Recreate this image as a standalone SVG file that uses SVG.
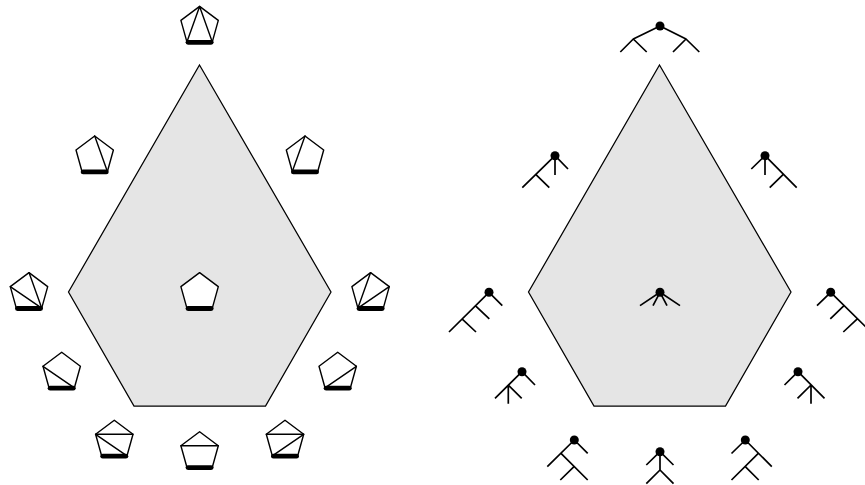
<svg xmlns="http://www.w3.org/2000/svg" xmlns:xlink="http://www.w3.org/1999/xlink" width="865" height="485" viewBox="0 0 865 485">
<style>
.hex{fill:#e5e5e5;stroke:#000;stroke-width:1.25;stroke-linejoin:miter}
.pent{fill:#fff;stroke:#000;stroke-width:1.4;stroke-linejoin:round}
.chord{fill:none;stroke:#000;stroke-width:1.4;stroke-linecap:round}
.base{fill:none;stroke:#000;stroke-width:4.8;stroke-linecap:round}
.tree{fill:none;stroke:#000;stroke-width:1.7;stroke-linecap:butt;stroke-linejoin:round}
.root{fill:#000}
</style>
<defs>
<g id="p">
<polygon class="pent" points="0,0 18.7,14 12.7,35.5 -12.7,35.5 -18.7,14"/>
<line class="base" x1="-11.6" y1="35.9" x2="11.6" y2="35.9"/>
</g>
<circle id="r" class="root" r="4.5"/>
</defs>
<g id="left-region"><polygon class="hex" points="199.5,65 331,292 265.5,406 134,406 68.5,292"/></g>
<g id="right-region"><polygon class="hex" points="659.5,65 791,292 725.5,406 594,406 528.5,292"/></g>

<g id="pent-top" transform="translate(199.6,6.4)"><use xlink:href="#p"/><path class="chord" d="M0,0L-12.7,35.5M0,0L12.7,35.5"/></g>
<g id="pent-ul" transform="translate(94.7,136)"><use xlink:href="#p"/><path class="chord" d="M0,0L12.7,35.5"/></g>
<g id="pent-ur" transform="translate(305,136)"><use xlink:href="#p"/><path class="chord" d="M0,0L-12.7,35.5"/></g>
<g id="pent-center" transform="translate(199.6,272.6)"><use xlink:href="#p"/></g>
<g id="pent-l" transform="translate(29,272.6)"><use xlink:href="#p"/><path class="chord" d="M0,0L12.7,35.5M-18.7,14L12.7,35.5"/></g>
<g id="pent-r" transform="translate(370.6,272.6)"><use xlink:href="#p"/><path class="chord" d="M0,0L-12.7,35.5M18.7,14L-12.7,35.5"/></g>
<g id="pent-l2" transform="translate(61.7,352.3)"><use xlink:href="#p"/><path class="chord" d="M-18.7,14L12.7,35.5"/></g>
<g id="pent-r2" transform="translate(337.7,352.3)"><use xlink:href="#p"/><path class="chord" d="M18.7,14L-12.7,35.5"/></g>
<g id="pent-bl" transform="translate(114.3,420.3)"><use xlink:href="#p"/><path class="chord" d="M-18.7,14H18.7M-18.7,14L12.7,35.5"/></g>
<g id="pent-bm" transform="translate(199.6,431.7)"><use xlink:href="#p"/><path class="chord" d="M-18.7,14H18.7"/></g>
<g id="pent-br" transform="translate(285,420.3)"><use xlink:href="#p"/><path class="chord" d="M-18.7,14H18.7M18.7,14L-12.7,35.5"/></g>

<g id="tree-top"><path class="tree" d="M660,26L633.3,39L620.3,52M633.3,39L646.7,52M660,26L686,39L673,52M686,39L699.3,52"/><use xlink:href="#r" x="660" y="26"/></g>
<g id="tree-ul"><path class="tree" d="M555,155.7L568,169M555,155.7V175M555,155.7L522.3,187.7M535.7,174.3L549.3,187.7"/><use xlink:href="#r" x="555" y="155.7"/></g>
<g id="tree-ur"><path class="tree" d="M765,155.7L751.3,169M765,155.7V175M765,155.7L796.7,187.7M783.3,174.3L769.7,187.7"/><use xlink:href="#r" x="765" y="155.7"/></g>
<g id="tree-center"><path class="tree" d="M660,292.3L640,305.6M660,292.3L653,305.6M660,292.3L667,305.6M660,292.3L680,305.6"/><use xlink:href="#r" x="660" y="292.3"/></g>
<g id="tree-l"><path class="tree" d="M489,292.3L502.3,305.6M489,292.3L449,332M475.3,305.6L489.3,318.9M462,318.9L476,332"/><use xlink:href="#r" x="489" y="292.3"/></g>
<g id="tree-r"><path class="tree" d="M830.7,292.3L817,305.6M830.7,292.3L871,332M844,305.6L830.3,318.9M857.3,318.9L843.3,332"/><use xlink:href="#r" x="830.7" y="292.3"/></g>
<g id="tree-l2"><path class="tree" d="M522,371.7L535,385M522,371.7L495,398.3M508.3,385L521.7,398.3M508.3,385V403.7"/><use xlink:href="#r" x="522" y="371.7"/></g>
<g id="tree-r2"><path class="tree" d="M798,371.7L784.5,385M798,371.7L824.5,398.3M811,385L797.5,398.3M811,385V403.7"/><use xlink:href="#r" x="798" y="371.7"/></g>
<g id="tree-bl"><path class="tree" d="M574.3,440L587.7,453.3M574.3,440L547.3,466.6M561,453.3L587.7,480M574,466.7L560.3,480"/><use xlink:href="#r" x="574.3" y="440"/></g>
<g id="tree-bm"><path class="tree" d="M660,451.7L646.3,465M660,451.7L673.5,465M660,451.7V470L646.3,483.7M660,470L673.5,483.7"/><use xlink:href="#r" x="660" y="451.7"/></g>
<g id="tree-br"><path class="tree" d="M745.3,440L731.5,453.5M745.3,440L771.8,466.7M758.3,453.3L731.5,480M745.3,466.7L758.7,480"/><use xlink:href="#r" x="745.3" y="440"/></g>
</svg>
